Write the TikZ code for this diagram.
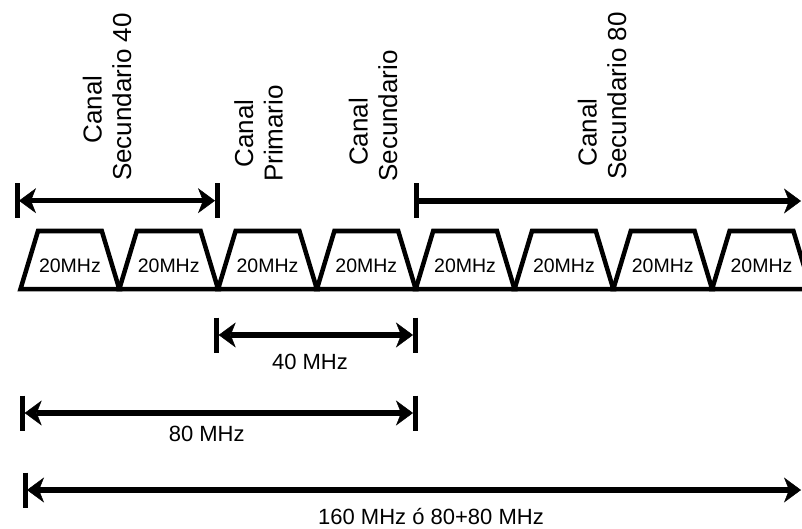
\documentclass[tikz,border=0pt]{standalone}
\usepackage{fontspec}
\setmainfont{Liberation Sans}
\usetikzlibrary{arrows.meta}
\tikzset{
  chan/.style={line width=4.5pt, line join=miter},
  chtext/.style={font=\fontsize{19.5}{22}\selectfont, inner sep=0pt},
  vlabel/.style={rotate=90, align=center, inner sep=0pt, font=\fontsize{26}{29.5}\selectfont},
  hlabel/.style={inner sep=0pt, font=\fontsize{22}{26}\selectfont},
  dimarrow/.style={line width=5.5pt,
    {Stealth[length=17pt,width=25pt,inset=5pt,line width=0.5pt]}-{Stealth[length=17pt,width=25pt,inset=5pt,line width=0.5pt]}},
  rarrow/.style={line width=5.5pt,
    -{Stealth[length=17pt,width=25pt,inset=5pt,line width=0.5pt]}},
  tick/.style={line width=5pt}
}
\begin{document}
\begin{tikzpicture}[x=1pt,y=-1pt]
\useasboundingbox (0,0) rectangle (802,529);
\fill[white] (0,0) rectangle (802,529);

% channels
\foreach \k in {0,...,7} {
  \pgfmathsetmacro\xa{20.5+98.8*\k}
  \pgfmathsetmacro\xb{\xa+98.8}
  \draw[chan] (\xa,289) -- (\xa+17.5,231) -- (\xb-17.5,231) -- (\xb,289) -- cycle;
  \node[chtext] (ch\k) at (\xa+49.4,266) {20MHz};
}

% vertical labels
\node[vlabel] (l40) at (107,97) {Canal\hspace*{25pt}\\Secundario 40};
\node[vlabel] (lprim) at (258.5,133.5) {Canal\\Primario};
\node[vlabel] (lsec) at (373,116) {Canal\hspace*{32pt}\\Secundario};
\node[vlabel] (l80) at (602,96) {Canal\hspace*{73pt}\\Secundario 80};

% coordinates
\coordinate (s40L) at (17,200.7);
\coordinate (s40R) at (217,200.7);
\coordinate (s80L) at (416,201);
\coordinate (s80R) at (801,201);
\coordinate (m40L) at (216.7,335);
\coordinate (m40R) at (415,335);
\coordinate (m80L) at (22.7,413);
\coordinate (m80R) at (415,413);
\coordinate (m160L) at (25,490);
\coordinate (m160R) at (801,490);

% ticks
\foreach \c in {s40L,s40R,s80L,m40L,m40R,m80L,m80R,m160L} {
  \draw[tick] ([yshift=17.5pt]\c) -- ([yshift=-17.5pt]\c);
}

% arrows
\draw[dimarrow] ([xshift=2pt]s40L) -- ([xshift=-2pt]s40R);
\draw[rarrow] ([xshift=2pt]s80L) -- (s80R);
\draw[dimarrow] ([xshift=2pt]m40L) -- ([xshift=-2pt]m40R);
\draw[dimarrow] ([xshift=2pt]m80L) -- ([xshift=-2pt]m80R);
\draw[dimarrow] ([xshift=2pt]m160L) -- (m160R);

% labels
\node[hlabel] (t40) at (310,362) {40 MHz};
\node[hlabel] (t80) at (206.7,434) {80 MHz};
\node[hlabel] (t160) at (431,517) {160 MHz ó 80+80 MHz};
\end{tikzpicture}
\end{document}
